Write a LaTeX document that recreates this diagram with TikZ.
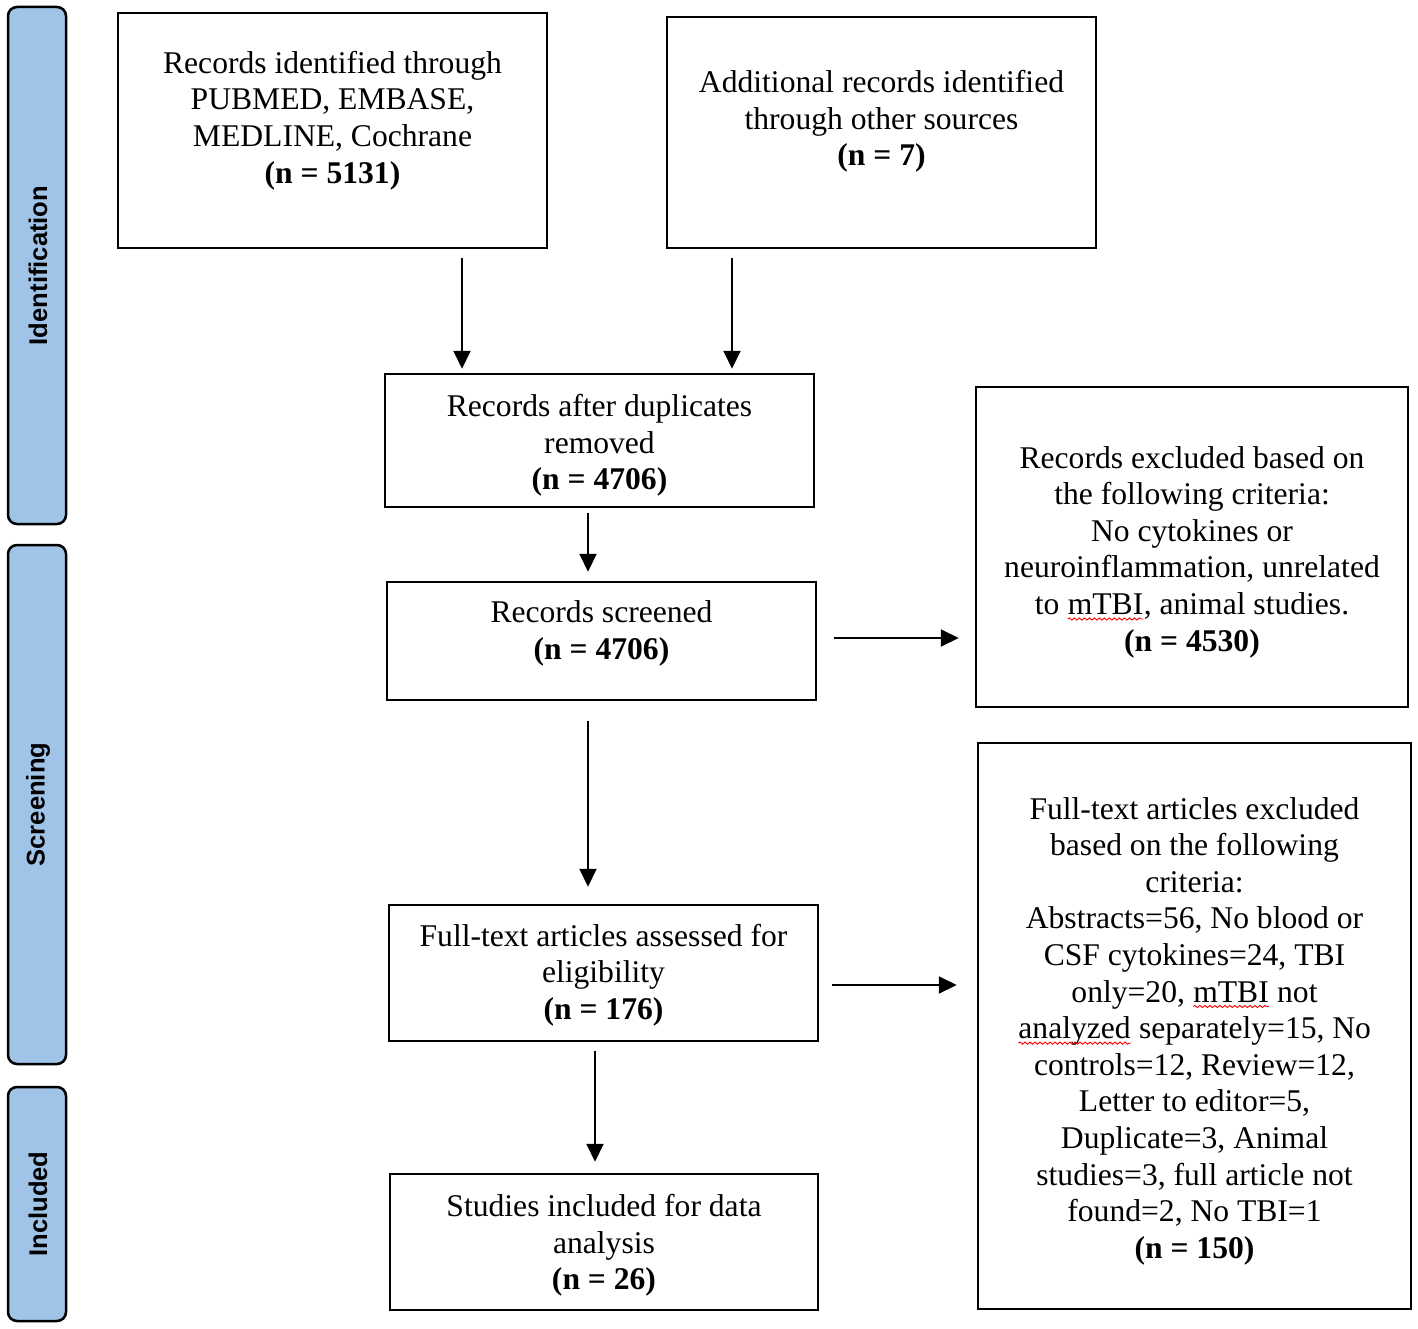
\documentclass[tikz,border=0pt]{standalone}
\usepackage{fontspec}
\setmainfont{Liberation Serif}
\newfontfamily\sidefont{Liberation Sans}
\usetikzlibrary{arrows.meta,calc,decorations.pathmorphing}
\definecolor{sidebl}{RGB}{160,196,232}
\newcommand\spellerr[1]{\tikz[baseline=(w.base)]{\node[inner sep=0pt,outer sep=0pt] (w) {#1};\draw[red, line width=0.9pt, decorate, decoration={snake, amplitude=1.1pt, segment length=5pt}] ([yshift=-4.5pt]w.base west) -- ([yshift=-4.5pt]w.base east);}}
\begin{document}
\begin{tikzpicture}[x=1pt,y=-1pt,
  box/.style={draw, line width=2.5pt, inner sep=0pt},
  txt/.style={align=center, font=\fontsize{31.6}{36.6}\selectfont, inner sep=0pt},
  sidebar/.style={draw, line width=2.5pt, fill=sidebl, rounded corners=9pt, minimum width=58pt, inner sep=0pt},
  sidelbl/.style={rotate=90, font=\sidefont\bfseries\fontsize{25.6}{30}\selectfont, inner sep=0pt},
  arr/.style={line width=2pt, -{Triangle[length=18pt,width=17pt]}}]
\useasboundingbox (0,0) rectangle (1418,1329);
% side bars
\node[sidebar, minimum height=517pt] (SI) at (37,265.5) {};
\node[sidelbl] (SIt) at (38,265.5) {Identification};
\node[sidebar, minimum height=519pt] (SS) at (37,804.5) {};
\node[sidelbl] (SSt) at (38,804.5) {Screening};
\node[sidebar, minimum height=234pt] (SN) at (37,1204) {};
\node[sidelbl] (SNt) at (38,1204) {Included};
% boxes
\node[box, minimum width=429pt, minimum height=235pt] (A) at (332.5,130.5) {};
\node[txt] (At) at (332.5,120.5) {Records identified through\\PUBMED, EMBASE,\\MEDLINE, Cochrane\\\textbf{(n = 5131)}};
\node[box, minimum width=429pt, minimum height=231pt] (B) at (881.5,132.5) {};
\node[txt] (Bt) at (881.5,121.5) {Additional records identified\\through other sources\\\textbf{(n = 7)}};
\node[box, minimum width=429pt, minimum height=133pt] (C) at (599.5,440.5) {};
\node[txt] (Ct) at (599.5,445.5) {Records after duplicates\\removed\\\textbf{(n = 4706)}};
\node[box, minimum width=429pt, minimum height=118pt] (D) at (601.5,641) {};
\node[txt] (Dt) at (601.5,633.5) {Records screened\\\textbf{(n = 4706)}};
\node[box, minimum width=432pt, minimum height=320pt] (E) at (1192,547) {};
\node[txt] (Et) at (1192,552) {Records excluded based on\\the following criteria:\\No cytokines or\\neuroinflammation, unrelated\\to \spellerr{mTBI}, animal studies.\\\textbf{(n = 4530)}};
\node[box, minimum width=429pt, minimum height=136pt] (F) at (603.5,973) {};
\node[txt] (Ft) at (603.5,975) {Full-text articles assessed for\\eligibility\\\textbf{(n = 176)}};
\node[box, minimum width=433pt, minimum height=566pt] (G) at (1194.5,1026) {};
\node[txt] (Gt) at (1194.5,1031) {Full-text articles excluded\\based on the following\\criteria:\\Abstracts=56, No blood or\\CSF cytokines=24, TBI\\only=20, \spellerr{mTBI} not\\\spellerr{analyzed} separately=15, No\\controls=12, Review=12,\\Letter to editor=5,\\Duplicate=3, Animal\\studies=3, full article not\\found=2, No TBI=1\\\textbf{(n = 150)}};
\node[box, minimum width=428pt, minimum height=136pt] (H) at (604,1242) {};
\node[txt] (Ht) at (604,1245.5) {Studies included for data\\analysis\\\textbf{(n = 26)}};
% arrow guide coordinates
\coordinate (xa) at (462,0);
\coordinate (xb) at (732,0);
\coordinate (xc) at (588,0);
\coordinate (xf) at (595,0);
\coordinate (yd) at (0,638);
\coordinate (yf) at (0,985);
% connectors
\draw[arr, shorten <=9pt, shorten >=4pt] (A.south -| xa) -- (C.north -| xa);
\draw[arr, shorten <=9pt, shorten >=4pt] (B.south -| xb) -- (C.north -| xb);
\draw[arr, shorten <=5pt, shorten >=9pt] (C.south -| xc) -- (D.north -| xc);
\draw[arr, shorten <=17pt, shorten >=16pt] (D.east |- yd) -- (E.west |- yd);
\draw[arr, shorten <=20pt, shorten >=17pt] (D.south -| xc) -- (F.north -| xc);
\draw[arr, shorten <=13pt, shorten >=20pt] (F.east |- yf) -- (G.west |- yf);
\draw[arr, shorten <=9pt, shorten >=11pt] (F.south -| xf) -- (H.north -| xf);
\end{tikzpicture}
\end{document}
